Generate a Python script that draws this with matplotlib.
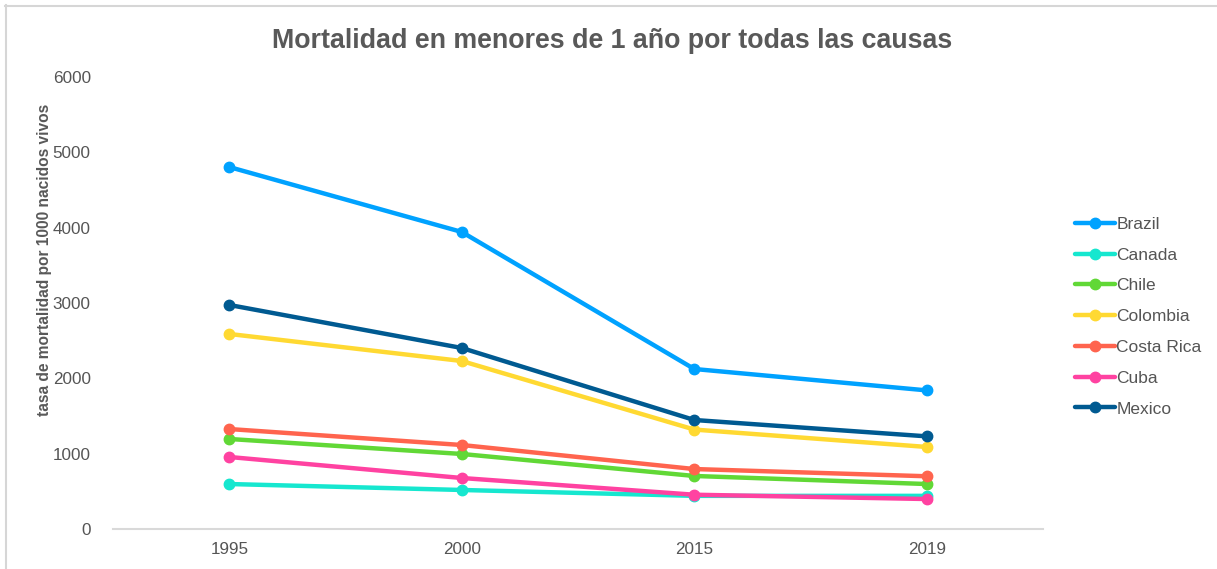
import matplotlib.pyplot as plt
from matplotlib.lines import Line2D

# Infant mortality (under 1 year), all causes
years = ["1995", "2000", "2015", "2019"]
countries = ["Brazil", "Canada", "Chile", "Colombia", "Costa Rica", "Cuba", "Mexico"]

brazil = [4805, 3943, 2124, 1840]
canada = [597, 518, 440, 440]
chile = [1195, 996, 704, 597]
colombia = [2589, 2230, 1320, 1089]
costa_rica = [1327, 1115, 796, 700]
cuba = [956, 677, 455, 398]
mexico = [2974, 2403, 1447, 1230]

series = [brazil, canada, chile, colombia, costa_rica, cuba, mexico]
colors = ["#00A2FF", "#16E7CF", "#61D836", "#FFD932", "#FF644E", "#FF42A1", "#005A91"]

plt.rcParams["font.family"] = ["Liberation Sans", "DejaVu Sans"]

fig = plt.figure(figsize=(12.17, 5.69), dpi=100)
ax = fig.add_axes([113 / 1217, 40 / 569, 930 / 1217, 452 / 569])

x = range(len(years))
for name, vals, c in zip(countries, series, colors):
    ax.plot(x, vals, color=c, lw=3.2, marker="o", ms=7.5, label=name,
            solid_capstyle="round", solid_joinstyle="round")

ax.set_xlim(-0.5, len(years) - 0.5)
ax.set_ylim(0, 6000)
ax.set_xticks(list(x))
ax.set_xticklabels(years)
ax.set_yticks(range(0, 6001, 1000))

for side in ["top", "right", "left"]:
    ax.spines[side].set_visible(False)
ax.spines["bottom"].set_color("#d9d9d9")
ax.spines["bottom"].set_linewidth(1.5)
ax.tick_params(axis="both", length=0, labelsize=12.3, colors="#555555")
ax.tick_params(axis="y", pad=16)
ax.tick_params(axis="x", pad=9)

ax.set_ylabel("tasa de mortalidad por 1000 nacidos vivos", fontsize=11.2,
              fontweight="bold", color="#595959")
ax.yaxis.set_label_coords(-0.066, 0.595)

fig.text(0.503, 0.928, "Mortalidad en menores de 1 año por todas las causas",
         ha="center", va="center", fontsize=19.3, fontweight="bold", color="#595959")

leg = fig.legend(loc="upper left", bbox_to_anchor=(1066 / 1217, 1 - 208 / 569),
                 frameon=False, fontsize=12.5, handlelength=2.3, handletextpad=0.1,
                 labelspacing=0.9, borderpad=0)
for t in leg.get_texts():
    t.set_color("#555555")

# light frame along the top and left edges
fig.add_artist(Line2D([5 / 1217, 1], [1 - 5.5 / 569, 1 - 5.5 / 569],
                      transform=fig.transFigure, color="#d6d6d6", lw=1.5))
fig.add_artist(Line2D([5.5 / 1217, 5.5 / 1217], [0, 1 - 5 / 569],
                      transform=fig.transFigure, color="#d6d6d6", lw=1.5))

fig.savefig("out.png", dpi=100)
